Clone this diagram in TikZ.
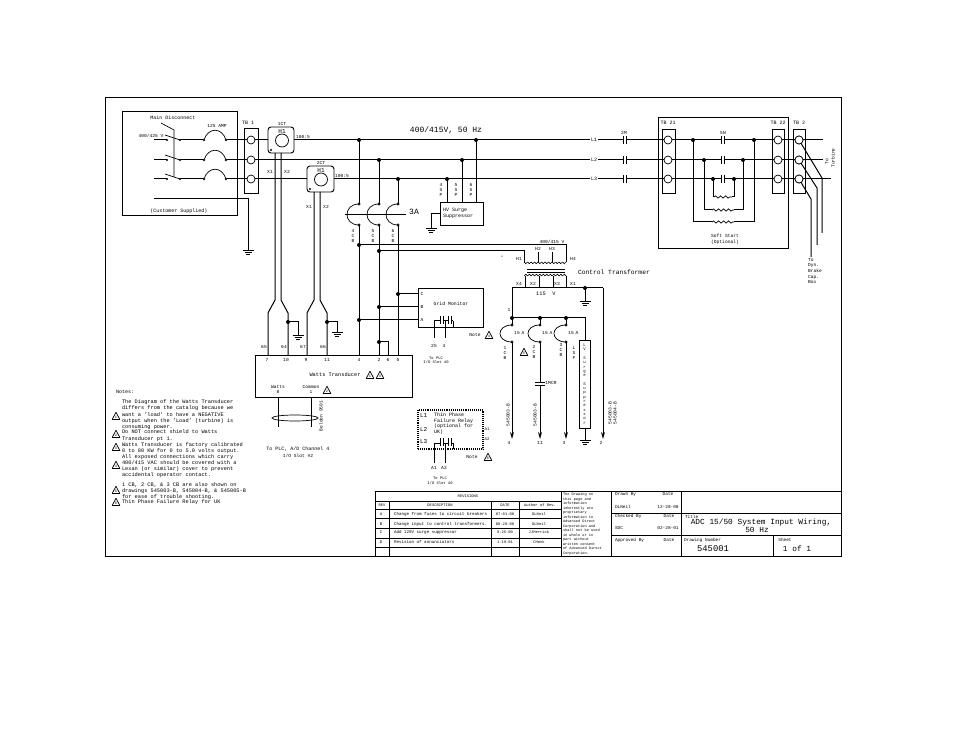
\documentclass[tikz,border=0pt]{standalone}
\usepackage{fontspec}
\setmainfont{Liberation Mono}
\usetikzlibrary{arrows.meta,decorations.pathmorphing,calc}
\newcommand{\fs}[1]{\fontsize{#1}{#1}\selectfont}
\tikzset{
  wire/.style={line width=1pt,line cap=butt,line join=miter},
  thinw/.style={line width=0.7pt},
  boxn/.style={draw,line width=0.9pt,inner sep=0,outer sep=0,anchor=north west},
  tx/.style={inner sep=0,outer sep=0,text=black,font=\fs{4.6},align=center},
  tl/.style={tx,anchor=west,align=left},
  tnote/.style={tx,anchor=west,align=left,font=\fs{5.3}},
  trm/.style={draw,fill=white,line width=0.7pt,circle,minimum size=8pt,inner sep=0},
  arr/.style={wire,-{Stealth[length=7pt,width=4pt]}},
  squig/.style={thinw,decorate,decoration={snake,segment length=5pt,amplitude=1.1pt}},
}
\newcommand{\jn}[2]{\fill (#1,#2) circle[radius=2];}
\newcommand{\gnd}[2]{\draw[line width=0.9pt] (#1-5.5,#2)--(#1+5.5,#2) (#1-3.5,#2+2.4)--(#1+3.5,#2+2.4) (#1-1.8,#2+4.8)--(#1+1.8,#2+4.8);}
\newcommand{\cont}[2]{\fill[white] (#1-1.7,#2-1)rectangle(#1+1.7,#2+1);\draw[line width=0.9pt] (#1-1.7,#2-4)--(#1-1.7,#2+4) (#1+1.7,#2-4)--(#1+1.7,#2+4);}
\newcommand{\tri}[3]{\draw[thinw,line join=round] (#1-3.8,#2+3.5)--(#1,#2-3.8)--(#1+3.8,#2+3.5)--cycle;\node[tx,font=\fs{3.6}] at (#1,#2+1) {#3};}
\newcommand{\bkr}[3]{\draw[thinw] (#1,#2) .. controls (#1-16,#2) and (#1-16,#3) .. (#1,#3);\draw[thinw,fill=white] (#1,#2) circle[radius=1.1] (#1,#3) circle[radius=1.1];}
\newcommand{\fus}[1]{\draw[thinw] (204,#1) .. controls (208,#1-13) and (222,#1-13) .. (226,#1);\draw[thinw,fill=white] (204,#1) circle[radius=1] (226,#1) circle[radius=1];}
\newcommand{\swt}[1]{\draw[wire] (154,#1)--(167,#1) (180,#1)--(204,#1);\draw[thinw] (180,#1)--(165,#1-5);\fill (167,#1) circle[radius=1.2] (180,#1) circle[radius=1.2];}
\newcommand{\twocont}[1]{\draw[wire] (434,#1)--(440,#1) (443,#1)--(448,#1) (451,#1)--(453,#1);\draw[line width=0.9pt] (440,#1-5)--(440,#1+3) (443,#1-5)--(443,#1+3) (448,#1-5)--(448,#1+3) (451,#1-5)--(451,#1+3);}
\begin{document}
\begin{tikzpicture}[x=1pt,y=-1pt]
\useasboundingbox (0,0) rectangle (954,738);
\fill[white] (0,0) rectangle (954,738);
% frame and boxes
\node[boxn,minimum width=736pt,minimum height=459pt] (frame) at (105,97) {};
\node[boxn,minimum width=115pt,minimum height=104pt] (cust) at (122,111) {};
\node[boxn,minimum width=130pt,minimum height=131pt] (soft) at (658,117) {};
% bus coordinates
\coordinate (a1) at (226,140); \coordinate (a2) at (226,160); \coordinate (a3) at (226,179);
\coordinate (e1) at (823,140); \coordinate (e2) at (823,160); \coordinate (e3) at (831,179);
\draw[wire] (a1)--(e1) (a2)--(e2) (a3)--(e3);
\foreach \y in {140,160,179}{\swt{\y}\fus{\y}}
\draw[thinw] (161,123)--(174,130)--(174,177);
% ground of customer box
\coordinate (g0a) at (154,199); \coordinate (g0) at (248,250);
\draw[wire] (g0a)-|(g0); \gnd{248}{250}
% terminal blocks
\node[boxn,minimum width=14pt,minimum height=65pt] (tb1) at (244,128) {};
\node[boxn,minimum width=13pt,minimum height=64pt] (tb21) at (662,129) {};
\node[boxn,minimum width=12pt,minimum height=64pt] (tb22) at (772,129) {};
\node[boxn,minimum width=12pt,minimum height=64pt] (tb2) at (793,129) {};
\foreach \x in {251,668,778,799}\foreach \y in {140,160,179}{\node[trm] at (\x,\y) {};}
% CTs
\node[boxn,rounded corners=3pt,minimum width=26pt,minimum height=26pt,fill=white] (ct1) at (268,127) {};
\node[boxn,rounded corners=3pt,minimum width=27pt,minimum height=26pt,fill=white] (ct2) at (307,166) {};
\node[draw,fill=white,circle,line width=0.7pt,minimum size=13pt,inner sep=0] at (282,140.5) {};
\node[draw,fill=white,circle,line width=0.7pt,minimum size=13pt,inner sep=0] at (321,179.5) {};
\fill (271,150) circle[radius=1.2] (310,189) circle[radius=1.2];
\coordinate (c1a) at (275,153); \coordinate (c1b) at (281,153); \coordinate (c2a) at (314,192); \coordinate (c2b) at (320,192);
\draw[wire] (c1a)--(275,300)--(268,313)--(268,355)
            (c1b)--(281,300)--(288,313)--(288,355)
            (c2a)--(314,300)--(307,313)--(307,355)
            (c2b)--(320,300)--(327,313)--(327,355);
\draw[wire] (288,322)-|(298,335); \gnd{298}{335} \jn{288}{322}
\draw[wire] (327,322)-|(337,332); \gnd{337}{332} \jn{327}{322}
% soft start
\foreach \x in {723}\foreach \y in {140,160,179}{\cont{\x}{\y}}
\foreach \y in {140,160,179}{\cont{625}{\y}}
\draw[wire] (693,140)|-(712,222) (734,222)-|(754,140);
\draw[wire] (704,160)|-(712,210) (734,210)-|(743,160);
\draw[wire] (713,179)|-(714,197) (732,197)-|(734,179);
\draw[squig] (712,222)--(734,222); \draw[squig] (712,210)--(734,210); \draw[squig] (714,197)--(732,197);
\jn{693}{140}\jn{754}{140}\jn{704}{160}\jn{743}{160}\jn{713}{179}\jn{734}{179}
% outgoing
\draw[wire] (799,140)--(822,178)--(822,233) (799,160)--(817,188)--(817,245) (799,179)--(811,199)--(811,257);
\foreach \x in {799}\foreach \y in {140,160,179}{\node[trm] at (\x,\y) {};}
% HV surge
\node[boxn,minimum width=43pt,minimum height=23pt] (hv) at (440,202) {};
\coordinate (h1) at (476,140); \coordinate (h2) at (462,160); \coordinate (h3) at (447,179);
\draw[wire] (h1)--(h1|-hv.north) (h2)--(h2|-hv.north) (h3)--(h3|-hv.north);
\jn{476}{140}\jn{462}{160}\jn{447}{179}
\draw[wire] (hv.west)-|(431,228); \gnd{431}{228}
% 3A breakers
\draw[wire] (359,140)--(359,204) (379,160)--(379,204) (398,179)--(398,204);
\draw[wire] (359,225)--(359,355) (379,225)--(379,355) (398,225)--(398,355);
\jn{359}{140}\jn{379}{160}\jn{398}{179}
\draw[thinw] (345,214)--(406,214);
\bkr{359}{204}{225}\bkr{379}{204}{225}\bkr{398}{204}{225}
% Grid monitor
\node[boxn,minimum width=65pt,minimum height=39pt] (gm) at (418,288) {};
\draw[wire] (398,294)--(418,294) (379,307)--(418,307) (359,320)--(418,320);
\jn{398}{294}\jn{379}{307}\jn{359}{320}
\twocont{321}
\draw[wire] (434,321)--(434,338) (445,321)--(445,338) (453,321)--(453,327);
% Transformer
\draw[wire] (359,245)-|(566,262) (379,251)-|(524,262);
\jn{359}{245}\jn{379}{251}
\draw[thinw] (538,252)--(538,262) (552,252)--(552,262);
\foreach \i in {0,...,11}{\draw[thinw] (524+3.5*\i,262) arc[start angle=180,end angle=0,radius=1.75];}
\foreach \i in {0,...,11}{\draw[thinw] (524+3.5*\i,276) arc[start angle=180,end angle=360,radius=1.75];}
\draw[line width=0.9pt] (527,269)--(565,269) (527,272.5)--(565,272.5);
\draw[wire] (512,288)--(603,288);
\draw[thinw] (525,276)--(525,288) (539,276)--(539,288) (553,276)--(553,288) (566,276)--(566,288);
\draw[wire] (585,288)--(585,301); \jn{585}{288}\gnd{585}{301}
\draw[wire] (512,288)--(512,325) (512,318)--(585,318)--(585,340) (540,318)--(540,325) (566,318)--(566,325);
\jn{512}{318}\jn{540}{318}\jn{566}{318}
\bkr{512}{325}{342}\bkr{540}{325}{342}\bkr{566}{325}{342}
\node[boxn,minimum width=11pt,minimum height=88pt] (lv) at (579,340) {};
\draw[wire] (585,428)--(585,440); \gnd{585}{440}
\draw[arr] (512,342)--(512,439);
\draw[wire] (540,342)--(540,382);
\draw[arr] (540,385)--(540,439);
\draw[thinw] (535,382)--(545,382) (535,385)--(545,385);
\draw[arr] (566,342)--(566,439);
\draw[arr] (603,288)--(603,439);
% Watts transducer
\node[boxn,minimum width=157pt,minimum height=42pt] (wt) at (255,355) {};
\draw[wire] (379,342)-|(388,355); \jn{379}{342}
\draw[wire] (278,397)--(278,427) (311,397)--(311,427);
\draw[thinw] (295,418) ellipse[x radius=23,y radius=3];
% relay
\node[boxn,densely dotted,line width=1.1pt,minimum width=65pt,minimum height=39pt] (rel) at (418,410) {};
\twocont{443}
\draw[wire] (434,443)--(434,463) (445,443)--(445,463) (453,443)--(453,449);
% texts
\node[tx,font=\fs{5}] at (173,118) {Main Disconnect};
\node[tx] at (151,136) {400/425 V};
\node[tx] at (217,126) {125 AMP};
\node[tx,font=\fs{5}] at (179,211) {(Customer Supplied)};
\node[tx,font=\fs{5}] at (248,123) {TB 1};
\node[tx,font=\fs{5}] at (668,123) {TB 21};
\node[tx,font=\fs{5}] at (778,123) {TB 22};
\node[tx,font=\fs{5}] at (799,123) {TB 2};
\node[tx] at (282,124) {1CT};\node[tx] at (321,163) {2CT};
\node[tx,font=\fs{6}] at (282,132) {H1};\node[tx,font=\fs{6}] at (321,171) {H1};
\node[tx] at (303,137) {100:5};\node[tx] at (342,176) {100:5};
\node[tx] at (270,172) {X1};\node[tx] at (287,172) {X2};
\node[tx] at (309,207) {X1};\node[tx] at (326,207) {X2};
\node[tx,font=\fs{8}] at (446,130) {400/415V, 50 Hz};
\node[tx,font=\fs{8}] at (414,212) {3A};
\foreach \x/\n in {353/4,373/5,393/6}{\node[tx] at (\x,236) {\n\\[0pt]C\\B};}
\foreach \x/\n in {441/4,456/5,471/6}{\node[tx] at (\x,190) {\n\\S\\P};}
\node[tx,anchor=west,align=left,font=\fs{5}] at (443,213.5) {HV Surge\\[1pt]Suppressor};
\node[tx,fill=white,inner sep=0.8pt,font=\fs{5}] at (594,140) {L1};
\node[tx,fill=white,inner sep=0.8pt,font=\fs{5}] at (594,160) {L2};
\node[tx,fill=white,inner sep=0.8pt,font=\fs{5}] at (594,179) {L3};
\node[tx] at (624,133) {2M};\node[tx] at (723,133) {5N};
\node[tx,rotate=90] at (827,162) {To};
\node[tx,rotate=90] at (833,158) {Turbine};
\node[tx,anchor=north west,align=left,font={\fs{4.6}\setlength{\baselineskip}{5.7pt}}] at (808,258) {To\\Dyn.\\Brake\\Cap.\\Box};
\node[tx,font=\fs{4.6}] at (725,236) {Soft Start};
\node[tx,font=\fs{4.6}] at (725,242) {(Optional)};
\node[tx] at (552,242) {400/415 V};
\node[tx,font=\fs{5}] at (502,258) {°};
\node[tx] at (519,259) {H1};\node[tx] at (573,259) {H4};\node[tx] at (538,249) {H2};\node[tx] at (552,249) {H3};
\node[tx] at (519,284) {X4};\node[tx] at (533,284) {X2};\node[tx] at (557,284) {X3};\node[tx] at (573,284) {X1};
\node[tx,font=\fs{5.3}] at (541,294) {115};\node[tx,font=\fs{5.3}] at (554,294) {V};
\node[tx,anchor=west,font=\fs{6.3}] at (578,272) {Control Transformer};
\node[tx] at (509,310) {1};
\foreach \x/\n/\y in {505/1/353,534/2/352,561/3/350}{\node[tx] at (\x,\y) {\n\\C\\B};}
\node[tx] at (574,353) {L\\S\\F};
\node[tx] at (517,333) {15};\node[tx] at (523,333) {A};
\node[tx] at (545,333) {15};\node[tx] at (551,333) {A};
\node[tx] at (571,333) {15};\node[tx] at (577,333) {A};
\tri{524}{352}{5}
\node[tx,font={\fs{4}\setlength{\baselineskip}{4.3pt}}] at (lv.center) {L\\V\\~\\S\\u\\r\\g\\e\\~\\S\\u\\p\\p\\r\\e\\s\\s\\o\\r};
\node[tx] at (551,383) {1MCR};
\node[tx,rotate=90,font=\fs{4.6}] at (508,415) {545003-B};
\node[tx,rotate=90,font=\fs{4.6}] at (535,415) {545003-B};
\node[tx,rotate=90,font=\fs{4.6}] at (610,413) {545003-B};
\node[tx,rotate=90,font=\fs{4.6}] at (615,413) {545004-B};
\node[tx] at (509,443) {4};\node[tx] at (540,443) {11};\node[tx] at (564,443) {3};\node[tx] at (601,443) {2};
\node[tx] at (422,294) {C};\node[tx] at (422,307) {B};\node[tx] at (422,320) {A};
\node[tx,font=\fs{4.8}] at (451,304) {Grid Monitor};
\node[tx] at (434,346) {25};\node[tx] at (444,346) {4};
\node[tx,font=\fs{3.8}] at (436,358) {To PLC};\node[tx,font=\fs{3.8}] at (436,362.5) {I/O Slot 40};
\node[tx] at (475,335) {Note};\tri{489}{335}{4}
\foreach \x/\n in {264/65,284/64,303/67,323/66}{\node[tx] at (\x,347) {\n};}
\foreach \x/\n in {267/7,286/10,306/9,327/11,359/4,379/2,388/6,398/5}{\node[tx] at (\x,360) {\n};}
\node[tx,font=\fs{5.3}] at (335,375) {Watts Transducer};
\tri{370}{375}{1}\tri{380}{375}{3}
\node[tx] at (278,387) {Watts};\node[tx] at (278,392) {8};
\node[tx] at (311,387) {Common};\node[tx] at (311,392) {1};
\tri{327}{390}{2}
\node[tx,rotate=90] at (321,416) {Belden 9501};
\node[tx,font=\fs{5}] at (298,449) {To PLC, A/D Channel 4};
\node[tx,font=\fs{4.6}] at (298,456) {I/O Slot \#2};
% relay text
\node[tx,anchor=west,font=\fs{6}] at (420,416) {L1};
\node[tx,anchor=west,font=\fs{6}] at (420,429) {L2};
\node[tx,anchor=west,font=\fs{6}] at (420,442) {L3};
\node[tx,anchor=north west,align=left,font={\fs{5}\setlength{\baselineskip}{5.5pt}}] at (434,413) {Thin Phase\\Failure Relay\\(optional for\\UK)};
\node[tx,font=\fs{4}] at (487,429) {A1};\node[tx,font=\fs{4}] at (487,439) {A2};
\node[tx] at (472,457) {Note};\tri{488}{457}{6}
\node[tx] at (434,468) {A1};\node[tx] at (444,468) {A2};
\node[tx,font=\fs{3.8}] at (440,478) {To PLC};\node[tx,font=\fs{3.8}] at (440,483.5) {I/O Slot 40};
% notes
\node[tl,font=\fs{5}] at (116,392) {Notes:};
\node[tnote,anchor=north west,font={\fs{5.3}\setlength{\baselineskip}{6.1pt}}] at (122,400) {The Diagram of the Watts Transducer\\differs from the catalog because we\\want a 'load' to have a NEGATIVE\\output when the 'Load' (turbine) is\\consuming power.};
\tri{116}{416}{1}
\node[tnote,anchor=north west,font={\fs{5.3}\setlength{\baselineskip}{6.2pt}}] at (122,430) {Do NOT connect shield to Watts\\Transducer pt 1.};
\tri{116}{434}{2}
\node[tnote,anchor=north west,font={\fs{5.3}\setlength{\baselineskip}{6.2pt}}] at (122,442.5) {Watts Transducer is factory calibrated\\0 to 80 KW for 0 to 5.0 volts output.};
\tri{116}{447}{3}
\node[tnote,anchor=north west,font={\fs{5.3}\setlength{\baselineskip}{5.9pt}}] at (122,455) {All exposed connections which carry\\400/415 VAC should be covered with a\\Lexan (or similar) cover to prevent\\accidental operator contact.};
\tri{116}{465}{4}
\node[tnote,anchor=north west,font={\fs{5.3}\setlength{\baselineskip}{6pt}}] at (122,482.5) {1 CB, 2 CB, \& 3 CB are also shown on\\drawings 545003-B, 545004-B, \& 545005-B\\for ease of trouble shooting.};
\tri{116}{490}{5}
\node[tnote] at (122,502) {Thin Phase Failure Relay for UK};
\tri{116}{502}{6}
% title block
\draw[line width=0.9pt] (375,556)--(375,491)--(841,491);
\draw[thinw] (375,501)--(561,501) (375,509)--(561,509) (375,518)--(561,518) (375,528)--(561,528) (375,538)--(561,538) (375,547)--(561,547);
\draw[thinw] (389,501)--(389,556) (491,501)--(491,556) (519,501)--(519,556);
\draw[line width=0.9pt] (561,491)--(561,556) (611,491)--(611,556) (681,491)--(681,556);
\draw[line width=0.9pt] (611,513)--(841,513) (611,535)--(841,535) (773,535)--(773,556);
\node[tx,font=\fs{3.8}] at (468,496) {REVISIONS};
\node[tx,font=\fs{3.8}] at (382,505) {REV};
\node[tx,font=\fs{3.8}] at (440,505) {DESCRIPTION};
\node[tx,font=\fs{3.8}] at (505,505) {DATE};
\node[tx,font=\fs{3.8}] at (540,505) {Author of Rev.};
\foreach \y/\r/\d/\t/\a in {514/A/Change from fuses to circuit breakers/07-01-00/DLNeil,524/B/Change input to control transformers./08-28-00/DLNeil,532/C/Add 120V surge suppressor/8-25-00/JJHerrick,542/D/Revision of annunciators/1-19-01/CHenk}{
  \node[tx,font=\fs{4}] at (381,\y) {\r};
  \node[tx,anchor=west,font=\fs{4.2}] at (394,\y) {\d};
  \node[tx,font=\fs{3.8}] at (505,\y) {\t};
  \node[tx,font=\fs{3.8}] at (539,\y) {\a};
}
\node[tx,anchor=north west,align=left,font={\fs{3.6}\setlength{\baselineskip}{4.5pt}}] at (563,493) {The Drawing on\\this page and\\information\\inherently are\\proprietary\\information to\\Advanced Direct\\Corporation and\\shall not be used\\in whole or in\\part without\\written consent\\of Advanced Direct\\Corporation.};
\node[tx,anchor=west,font=\fs{4.4}] at (615,494.5) {Drawn By};\node[tx,font=\fs{4.4}] at (668,494.5) {Date};
\node[tx,anchor=west,font=\fs{4.4}] at (615,507) {DLNeil};\node[tx,font=\fs{4.4}] at (668,507) {12-28-00};
\node[tx,anchor=west,font=\fs{4.4}] at (615,516.5) {Checked By};\node[tx,font=\fs{4.4}] at (669,516.5) {Date};
\node[tx,anchor=west,font=\fs{4.4}] at (615,528) {SDC};\node[tx,font=\fs{4.4}] at (668,528) {02-28-01};
\node[tx,anchor=west,font=\fs{4.4}] at (615,540) {Approved By};\node[tx,font=\fs{4.4}] at (669,540) {Date};
\node[tx,anchor=west,font=\fs{4.4}] at (685,516.5) {Title};
\node[tx,font=\fs{7.8}] at (761,522.5) {ADC 15/50 System Input Wiring,};
\node[tx,font=\fs{7.8}] at (757,530) {50 Hz};
\node[tx,anchor=west,font=\fs{4.4}] at (684,540) {Drawing Number};
\node[tx,font=\fs{8.8}] at (713,549) {545001};
\node[tx,font=\fs{4.4}] at (785,540) {Sheet};
\node[tx,font=\fs{7.8}] at (797,549) {1 of 1};
\end{tikzpicture}
\end{document}
